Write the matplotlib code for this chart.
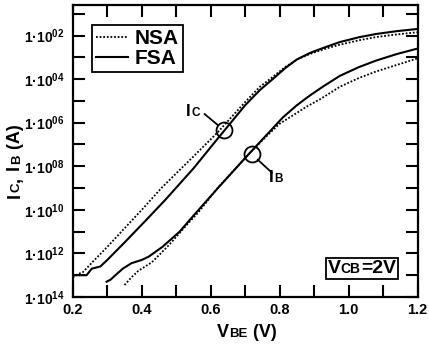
import numpy as np
import matplotlib
matplotlib.use("Agg")
import matplotlib.pyplot as plt
from matplotlib.ticker import FixedLocator, FixedFormatter, MultipleLocator, NullLocator
from matplotlib.offsetbox import AnchoredOffsetbox, HPacker, TextArea

plt.rcParams['font.family'] = ['Liberation Sans', 'DejaVu Sans']
plt.rcParams['font.weight'] = 'bold'
plt.rcParams['mathtext.fontset'] = 'custom'
plt.rcParams['mathtext.rm'] = 'Liberation Sans:bold'
plt.rcParams['mathtext.it'] = 'Liberation Sans:bold'
plt.rcParams['mathtext.bf'] = 'Liberation Sans:bold'

# current = 10**(-exponent)
vbe_ic_nsa = [0.20, 0.215, 0.23, 0.26, 0.30, 0.35, 0.40, 0.46, 0.55, 0.62, 0.70,
              0.743, 0.78, 0.816, 0.85, 0.888, 0.93, 0.975, 1.03, 1.08, 1.14, 1.20]
exp_ic_nsa = [13.1, 12.95, 12.85, 12.35, 11.7, 10.85, 10.0, 8.95, 7.55, 6.45, 5.05,
              4.35, 3.9, 3.45, 3.1, 2.85, 2.62, 2.42, 2.22, 2.07, 1.95, 1.85]

vbe_ic_fsa = [0.20, 0.24, 0.255, 0.28, 0.30, 0.35, 0.414, 0.469, 0.55, 0.622, 0.70,
              0.743, 0.78, 0.816, 0.85, 0.888, 0.93, 0.975, 1.03, 1.08, 1.14, 1.20]
exp_ic_fsa = [13.0, 13.0, 12.7, 12.6, 12.3, 11.5, 10.45, 9.53, 8.1, 6.7, 5.2,
              4.5, 4.0, 3.5, 3.1, 2.8, 2.55, 2.3, 2.08, 1.93, 1.8, 1.7]

vbe_ib_nsa = [0.35, 0.37, 0.39, 0.43, 0.48, 0.53, 0.565, 0.62, 0.71, 0.76, 0.80,
              0.84, 0.88, 0.92, 0.975, 1.03, 1.08, 1.14, 1.20]
exp_ib_nsa = [13.45, 13.1, 12.8, 12.4, 11.6, 10.7, 10.1, 9.0, 7.45, 6.65, 6.05,
              5.65, 5.25, 4.9, 4.35, 3.95, 3.65, 3.35, 3.05]

vbe_ib_fsa = [0.298, 0.31, 0.32, 0.345, 0.37, 0.40, 0.42, 0.46, 0.51, 0.54, 0.565,
              0.621, 0.71, 0.76, 0.81, 0.85, 0.888, 0.93, 0.975, 1.03, 1.08, 1.14, 1.20]
exp_ib_fsa = [13.3, 13.2, 13.05, 12.7, 12.45, 12.3, 12.15, 11.7, 11.0, 10.45, 10.0,
              9.0, 7.45, 6.6, 5.75, 5.2, 4.75, 4.3, 3.85, 3.45, 3.15, 2.85, 2.6]

xticks = [0.2, 0.4, 0.6, 0.8, 1.0, 1.2]
ytick_exp = list(range(1, 15))
ylabels = ['1·10$^{%02d}$' % e if e % 2 == 0 else '' for e in ytick_exp]

ic_circle = (0.639, 6.35)
ib_circle = (0.72, 7.46)

W, H = 429, 347


def cur(e):
    return 10.0 ** (-np.asarray(e))


fig = plt.figure(figsize=(W / 100, H / 100), dpi=100)
ax = fig.add_axes([0.1697, 0.1441, 0.8035, 0.8415])

l1, = ax.plot(vbe_ic_nsa, cur(exp_ic_nsa), color='k', lw=1.3, ls=(0, (1, 1)))
ax.plot(vbe_ib_nsa, cur(exp_ib_nsa), color='k', lw=1.3, ls=(0, (1, 1)))
l2, = ax.plot(vbe_ic_fsa, cur(exp_ic_fsa), color='k', lw=1.5)
ax.plot(vbe_ib_fsa, cur(exp_ib_fsa), color='k', lw=1.5)

ax.set_yscale('log')
ax.set_xlim(0.2, 1.2)
ax.set_ylim(1e-14, 10 ** -0.6)
ax.xaxis.set_major_locator(FixedLocator(xticks))
ax.xaxis.set_minor_locator(MultipleLocator(0.1))
ax.set_xticklabels(['%.1f' % t for t in xticks])
ax.yaxis.set_major_locator(FixedLocator(cur(ytick_exp)))
ax.yaxis.set_major_formatter(FixedFormatter(ylabels))
ax.yaxis.set_minor_locator(NullLocator())
ax.tick_params(which='both', direction='in', top=True, right=True, length=8.5, width=1.5)
ax.tick_params(axis='x', labelsize=10.5, pad=4)
ax.tick_params(axis='y', labelsize=10, pad=6)
for s in ax.spines.values():
    s.set_linewidth(1.6)

leg = ax.legend([l1, l2], ['NSA', 'FSA'], loc='upper left', bbox_to_anchor=(0.056, 0.932),
                borderaxespad=0, fancybox=False, edgecolor='k', framealpha=1,
                prop={'size': 15, 'weight': 'bold'}, handlelength=1.5, handletextpad=0.35,
                borderpad=0.2, labelspacing=0.05)
leg.get_frame().set_linewidth(1.3)

# circles and leader lines
ax.plot(ic_circle[0], cur(ic_circle[1]), marker='o', ms=11.5, mfc='none', mec='k', mew=1.3)
ax.plot(ib_circle[0], cur(ib_circle[1]), marker='o', ms=11.5, mfc='none', mec='k', mew=1.3)
ax.annotate('', xy=(ic_circle[0], cur(ic_circle[1])), xytext=(0.582, cur(5.6)),
            arrowprops=dict(arrowstyle='-', lw=1.3, shrinkA=0, shrinkB=5.5))
ax.annotate('', xy=(ib_circle[0], cur(ib_circle[1])), xytext=(0.778, cur(8.3)),
            arrowprops=dict(arrowstyle='-', lw=1.3, shrinkA=0, shrinkB=5.5))

renderer = fig.canvas.get_renderer()


def pieces(x, y, parts, rotation=0, gap=0.0):
    # x, y: baseline start in picture pixels (top-left origin)
    X, Y = x, H - y
    for s, size in parts:
        t = fig.text(X / W, Y / H, s, fontsize=size, fontweight='bold', rotation=rotation,
                     rotation_mode='anchor', ha='left', va='baseline')
        bb = t.get_window_extent(renderer)
        if rotation:
            Y += bb.height + gap
        else:
            X += bb.width + gap


pieces(186, 116, [('I', 12), ('C', 8.5)], gap=0.5)
pieces(269, 182, [('I', 12.5), ('B', 8.5)], gap=0.5)
pieces(217, 337, [('V', 13), ('BE', 9.5), (' (V)', 13)], gap=0.5)
pieces(20, 198, [('I', 13), ('C', 9.5), (',', 13), (' I', 13), ('B', 9.5), (' (A)', 13)],
       rotation=90, gap=1.0)

# Vcb box
parts = [TextArea('V', textprops=dict(fontsize=14, fontweight='bold')),
         TextArea('CB', textprops=dict(fontsize=10, fontweight='bold')),
         TextArea('=2V', textprops=dict(fontsize=14, fontweight='bold'))]
box = HPacker(children=parts, align='baseline', pad=0, sep=0)
anch = AnchoredOffsetbox(loc='lower right', child=box, pad=0.15, borderpad=0, frameon=True,
                         bbox_to_anchor=(0.943, 0.062), bbox_transform=ax.transAxes)
anch.patch.set_linewidth(1.3)
anch.patch.set_boxstyle('square', pad=0)
ax.add_artist(anch)

fig.savefig('out.png', dpi=100)
